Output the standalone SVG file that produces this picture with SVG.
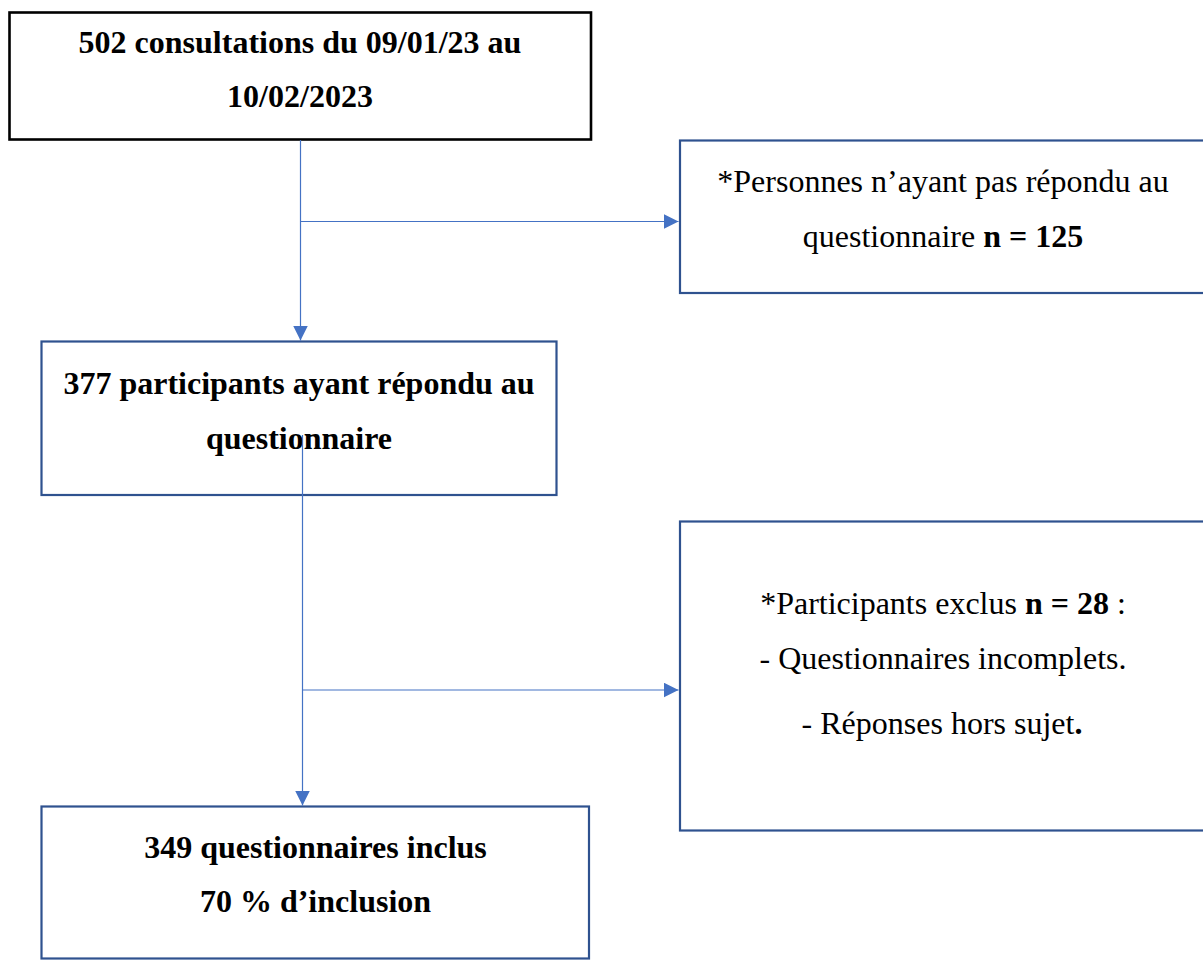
<svg xmlns="http://www.w3.org/2000/svg" width="1203" height="960" viewBox="0 0 1203 960">
<style>
  .txt { font-family: "Liberation Serif", "Times New Roman", serif; font-size: 32px; fill: #000; text-anchor: middle; }
  .b { font-weight: bold; }
  .box { fill: #fff; stroke: #2F528F; stroke-width: 2.2; }
  .box-black { fill: #fff; stroke: #000; stroke-width: 2.6; }
  .conn { fill: none; stroke: #4472C4; stroke-width: 1.2; }
</style>
<defs>
  <marker id="arrow" viewBox="0 0 10 10" refX="10" refY="5" markerWidth="15" markerHeight="15" markerUnits="userSpaceOnUse" orient="auto">
    <path d="M0,0 L10,5 L0,10 Z" fill="#4472C4"/>
  </marker>
</defs>
<rect width="1203" height="960" fill="#fff"/>

<g id="node-consultations">
  <rect class="box-black" x="9.5" y="12.5" width="581.5" height="127"/>
  <text class="txt b" x="300" y="53">502 consultations du 09/01/23 au</text>
  <text class="txt b" x="300" y="107">10/02/2023</text>
</g>

<g id="node-non-repondants">
  <rect class="box" x="680" y="140.5" width="540" height="152.5"/>
  <text class="txt" x="943" y="192">*Personnes n’ayant pas répondu au</text>
  <text class="txt" x="943" y="246.5">questionnaire <tspan class="b">n = 125</tspan></text>
</g>

<g id="node-participants">
  <rect class="box" x="41.5" y="341.5" width="515" height="153.5"/>
  <text class="txt b" x="299" y="394">377 participants ayant répondu au</text>
  <text class="txt b" x="299" y="449">questionnaire</text>
</g>

<g id="node-exclus">
  <rect class="box" x="680" y="521.5" width="540" height="309"/>
  <text class="txt" x="943" y="614">*Participants exclus <tspan class="b">n = 28</tspan> :</text>
  <text class="txt" x="943" y="668.5">- Questionnaires incomplets.</text>
  <text class="txt" x="942" y="734">- Réponses hors sujet<tspan class="b">.</tspan></text>
</g>

<g id="node-inclus">
  <rect class="box" x="41.5" y="806.5" width="547.5" height="152"/>
  <text class="txt b" x="315.5" y="858">349 questionnaires inclus</text>
  <text class="txt b" x="315.5" y="912">70 % d’inclusion</text>
</g>

<g id="connectors">
  <line class="conn" x1="300.5" y1="140" x2="300.5" y2="340.5" marker-end="url(#arrow)"/>
  <line class="conn" x1="300.5" y1="221.5" x2="678.5" y2="221.5" marker-end="url(#arrow)"/>
  <line class="conn" x1="302.5" y1="435" x2="302.5" y2="805.5" marker-end="url(#arrow)"/>
  <line class="conn" x1="302.5" y1="690" x2="678.5" y2="690" marker-end="url(#arrow)"/>
</g>
</svg>
